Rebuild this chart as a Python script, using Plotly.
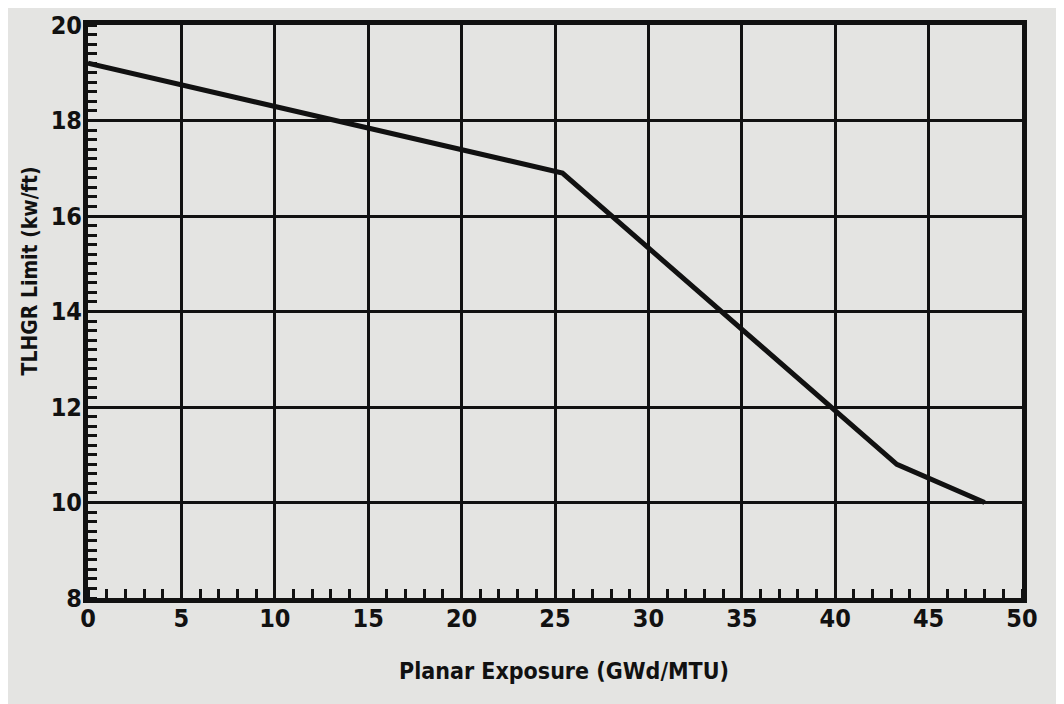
import plotly.graph_objects as go

exposure = [0.0, 25.4, 43.3, 48.0]
tlhgr = [19.2, 16.9, 10.8, 10.0]

x_ticks = [0, 5, 10, 15, 20, 25, 30, 35, 40, 45, 50]
y_ticks = [8, 10, 12, 14, 16, 18, 20]

FONT = "DejaVu Sans Condensed, Liberation Sans Narrow, DejaVu Sans, sans-serif"
tick_font = dict(size=25, family=FONT, weight="bold", color="#111111")

fig = go.Figure()
fig.add_trace(go.Scatter(x=exposure, y=tlhgr, mode="lines",
                         line=dict(color="#111111", width=5), showlegend=False))

fig.update_layout(
    width=1064, height=704,
    paper_bgcolor="#e4e4e2", plot_bgcolor="#e4e4e2",
    margin=dict(l=80, r=50, t=17, b=114),
    font=dict(family=FONT, color="#111111", size=24),
    annotations=[
        dict(text="<b>Planar Exposure (GWd/MTU)</b>", x=0.51, xref="paper", y=-0.128,
             yref="paper", yanchor="middle", showarrow=False,
             font=dict(size=23, family=FONT)),
        dict(text="<b>TLHGR Limit (kw/ft)</b>", x=-0.062, xref="paper", xanchor="center",
             y=0.57, yref="paper", textangle=-90, showarrow=False,
             font=dict(size=21, family=FONT)),
    ],
)
fig.update_xaxes(
    range=[0, 50], tickvals=x_ticks, ticktext=[str(v) for v in x_ticks],
    showgrid=True, gridcolor="#111111", gridwidth=3,
    showline=True, linecolor="#111111", linewidth=5, mirror=True,
    ticks="", tickfont=tick_font, automargin=False, ticklabelstandoff=-6,
    ticklabeloverflow="allow",
    minor=dict(dtick=1, ticks="inside", ticklen=9, tickwidth=3, tickcolor="#111111", showgrid=False),
    zeroline=False,
)
fig.update_yaxes(
    range=[8, 20], tickvals=y_ticks, ticktext=[str(v) for v in y_ticks],
    showgrid=True, gridcolor="#111111", gridwidth=3,
    showline=True, linecolor="#111111", linewidth=5, mirror=True,
    ticks="", tickfont=tick_font, automargin=False, ticklabelstandoff=-4,
    ticklabeloverflow="allow",
    minor=dict(dtick=0.2, ticks="inside", ticklen=9, tickwidth=3, tickcolor="#111111", showgrid=False),
    zeroline=False,
)

fig.write_html("out.html")
